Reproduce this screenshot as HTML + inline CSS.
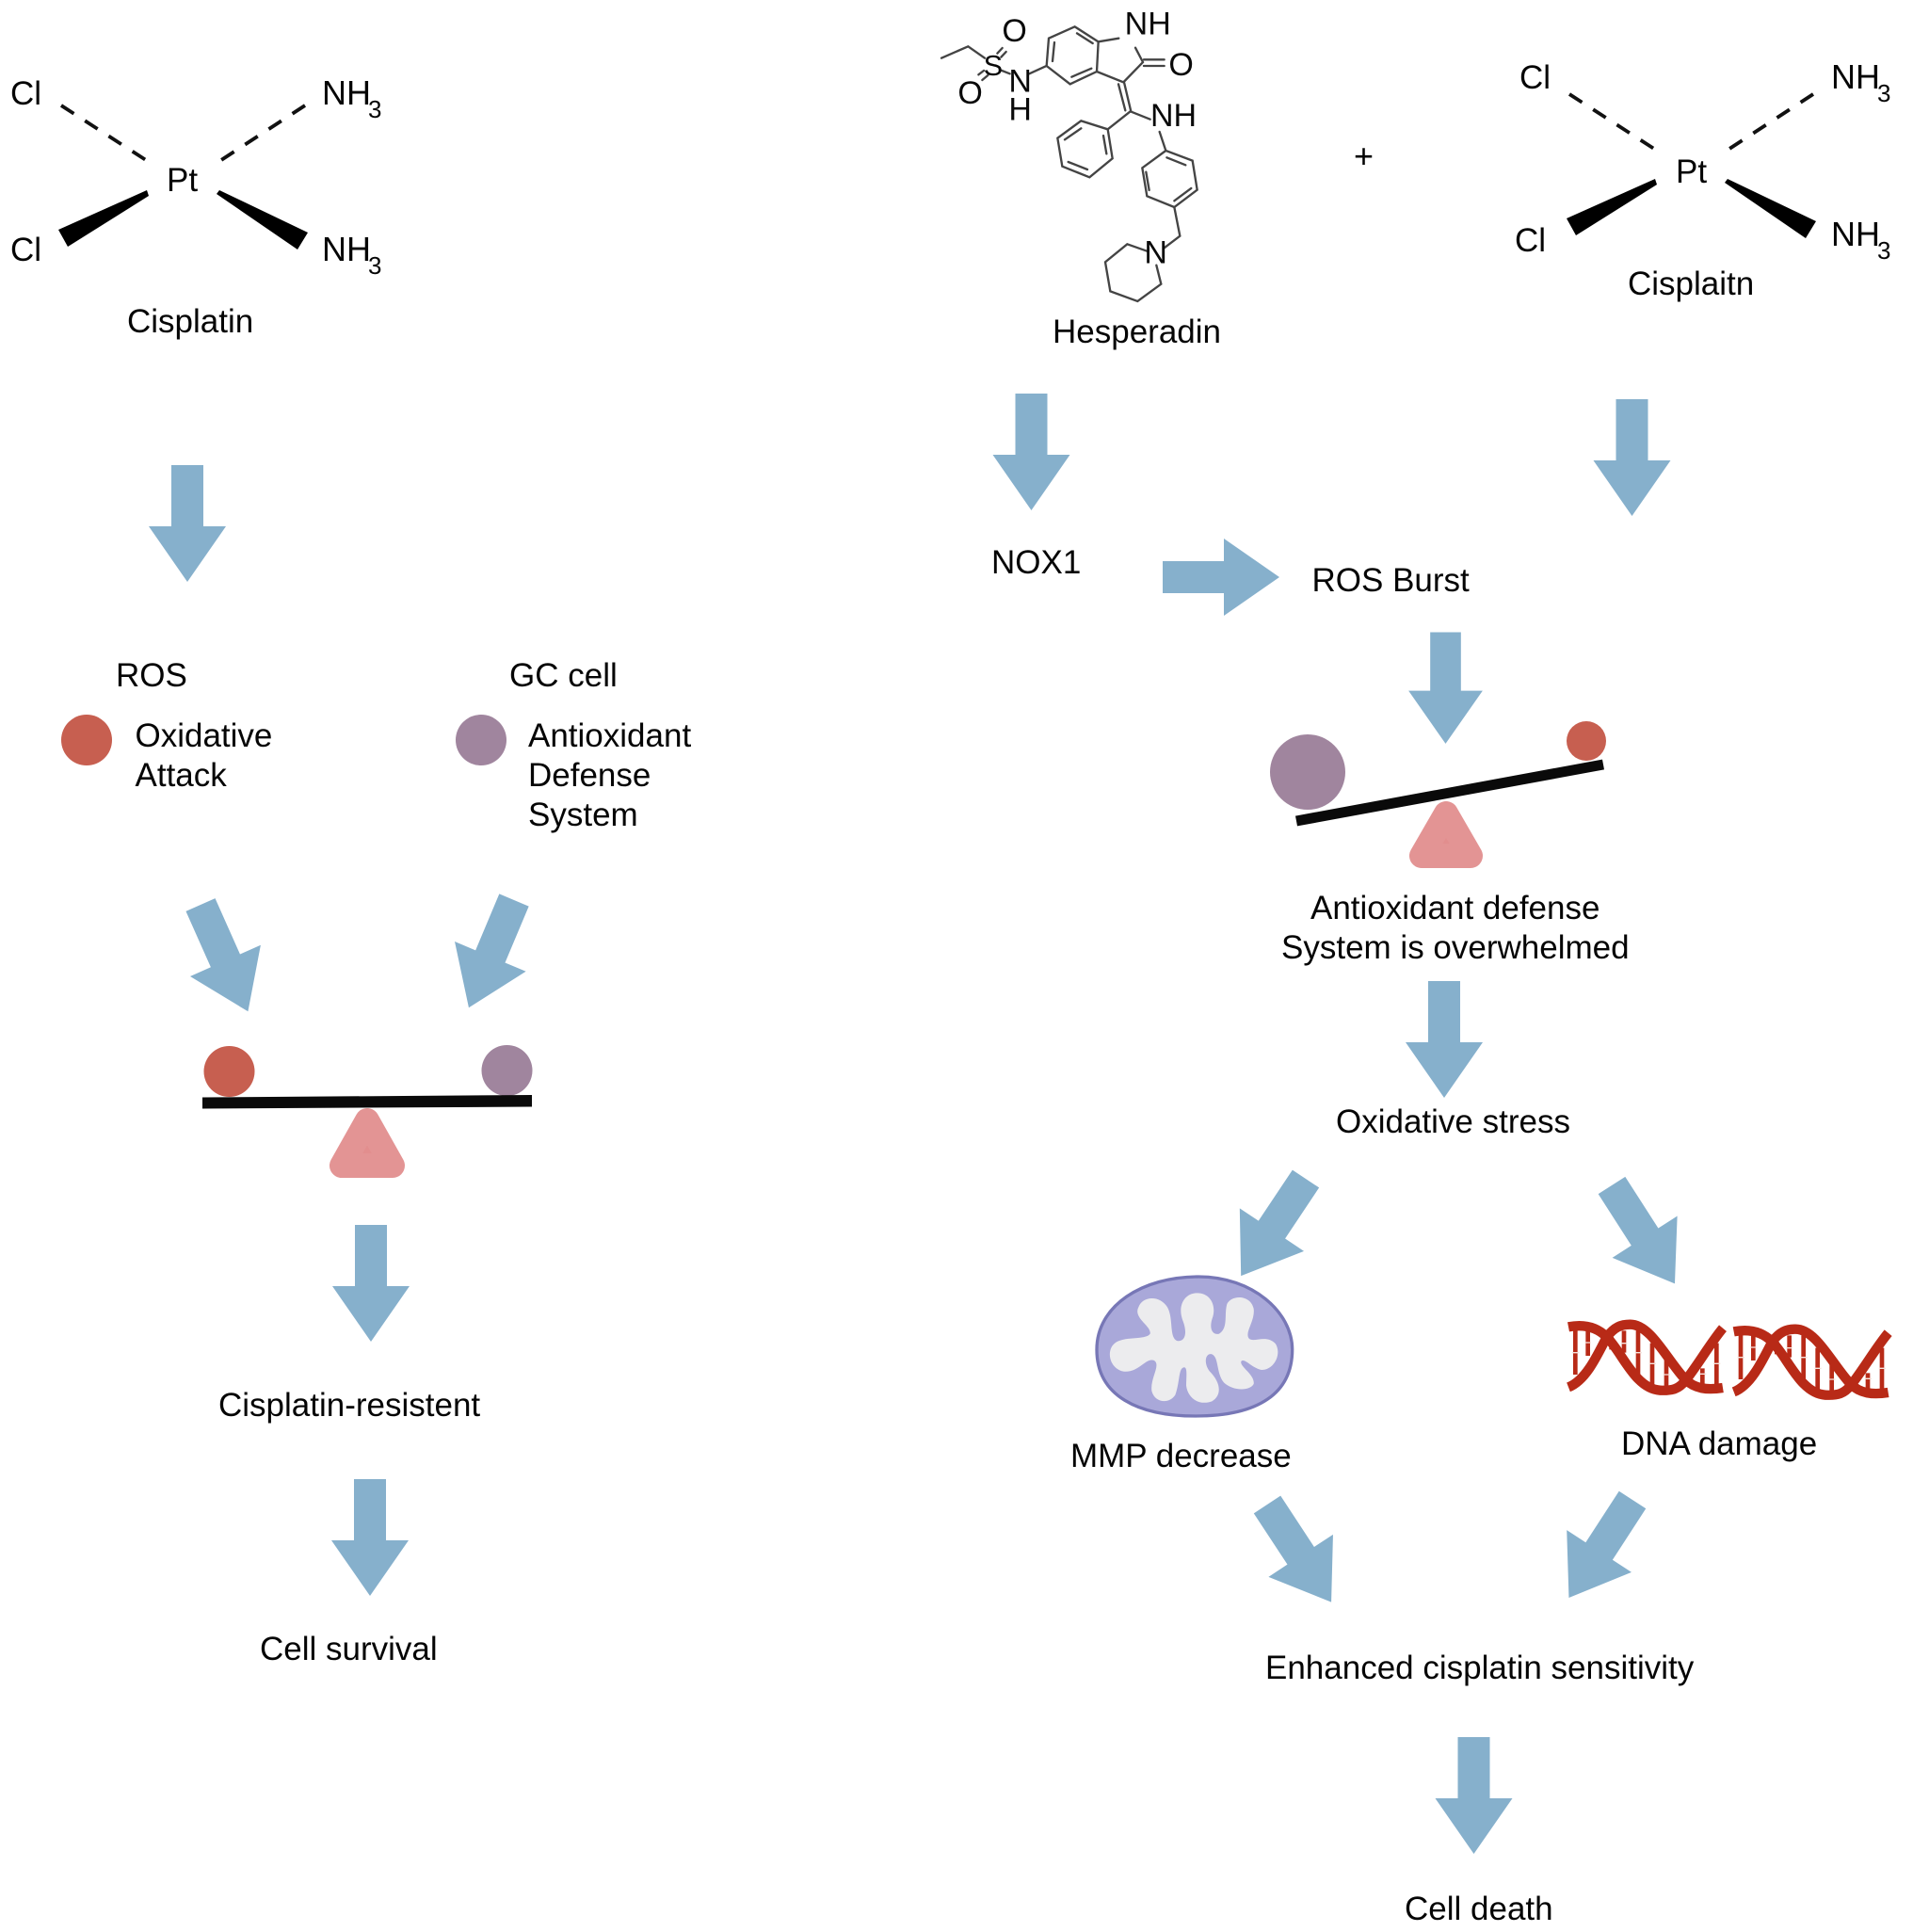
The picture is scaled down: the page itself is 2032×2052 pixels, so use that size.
<!DOCTYPE html>
<html><head><meta charset="utf-8"><style>
html,body{margin:0;padding:0;background:#fff}
svg{display:block}
text{font-family:"Liberation Sans",sans-serif;font-size:35px;fill:#050505}
.s{font-size:26px}
.m text{font-size:102px;fill:#0a0a0a}
</style></head><body>
<svg width="2032" height="2052" viewBox="0 0 2032 2052" xmlns="http://www.w3.org/2000/svg">
<defs>
<polygon id="a" points="-17,0 17,0 17,65 41,65 0,124 -41,65 -17,65" fill="#86b0cc"/>
<g id="pt">
<g stroke="#111" stroke-width="3.8" stroke-dasharray="16 14" fill="none">
<line x1="65" y1="112" x2="155" y2="170"/><line x1="324" y1="112" x2="235" y2="170"/>
</g>
<polygon points="156,202 158,208 72,262 62,244" fill="#000"/>
<polygon points="230,203 233,199 327,244 316,262" fill="#000" transform="translate(0,3)"/>
</g>
<g id="dna">
<g stroke="#b82a17" stroke-width="14" fill="none">
<path d="M100,120V270M140,110V210M215,150V190M255,130V200M300,130V290M345,170V310M390,220V310M505,250V310M550,170V310"/>
</g>
<g stroke="#f6e4de" stroke-width="4" fill="none">
<path d="M90,200H112M130,168H150M245,170H265M290,200H312M335,235H357M380,270H402M495,268H517M540,235H562"/>
</g>
<g stroke="#b82a17" stroke-width="31" fill="none">
<path d="M78,118C130,108 170,120 200,150C250,200 290,315 370,320C410,322 430,315 450,290C490,240 530,170 570,122"/>
<path d="M78,310C130,290 165,220 200,150C225,118 245,110 275,110C340,110 390,220 450,285C480,315 520,320 570,312"/>
</g>
</g>
</defs>

<!-- left molecule -->
<use href="#pt"/>
<text x="177" y="203">Pt</text>
<text x="11" y="111">Cl</text><text x="342" y="111" style="font-size:36px">NH</text><text class="s" x="391" y="125">3</text>
<text x="11" y="277">Cl</text><text x="342" y="277" style="font-size:36px">NH</text><text class="s" x="391" y="291">3</text>
<text x="135" y="353">Cisplatin</text>

<!-- left column -->
<use href="#a" transform="translate(199,494)"/>
<text x="123" y="729">ROS</text><text x="541" y="729">GC cell</text>
<circle cx="92" cy="786" r="27" fill="#c75f50"/>
<circle cx="511" cy="786" r="27" fill="#a0859e"/>
<text x="143.5" y="793">Oxidative</text><text x="143.5" y="835">Attack</text>
<text x="561" y="793">Antioxidant</text><text x="561" y="835">Defense</text><text x="561" y="877">System</text>
<use href="#a" transform="translate(213,961) rotate(-24)"/>
<use href="#a" transform="translate(546,956) rotate(22.8)"/>
<circle cx="243.5" cy="1138" r="27" fill="#c75f50"/>
<circle cx="538.5" cy="1137" r="27" fill="#a0859e"/>
<polygon points="215,1165.5 565,1163 565,1175.5 215,1177.5" fill="#0a0a0a"/>
<polygon points="390,1190 363,1238 417,1238" fill="#e28e8e" stroke="#e39494" stroke-width="26" stroke-linejoin="round"/>
<use href="#a" transform="translate(394,1301)"/>
<text x="232" y="1504">Cisplatin-resistent</text>
<use href="#a" transform="translate(393,1571)"/>
<text x="276" y="1763">Cell survival</text>

<!-- hesperadin -->
<g transform="translate(960,0) scale(.33333)" class="m">
<g stroke="#444" stroke-width="7" fill="none" stroke-linecap="round">
<path d="M120,185L205,148L258,185"/>
<path d="M298,170L314,153M310,182L326,165M255,225L238,238M268,240L250,255"/>
<path d="M305,222L338,235M400,235L455,210"/>
<path d="M455,210L462,122L545,85L620,133L615,228L530,268Z"/>
<path d="M474,195L480,135M552,106L602,138M535,245L598,218"/>
<path d="M620,133L685,122M738,152L762,198L700,262L615,228"/>
<path d="M765,190L830,190M765,210L830,210"/>
<path d="M702,262L724,355M684,268L706,352"/>
<path d="M722,355L650,412M722,355L785,380"/>
<path d="M650,412L665,505L592,565L505,530L490,440L565,385Z"/>
<path d="M636,432L646,490M585,540L524,516M513,445L565,409"/>
<path d="M815,420L835,480L920,512L935,605L862,660L775,625L760,535L835,480"/>
<path d="M838,502L898,526M916,600L862,640M782,606L772,548"/>
<path d="M862,660L880,752L830,790"/>
<path d="M775,800L712,778L642,835L658,928L745,960L820,905L805,845"/>
</g>
<text x="254" y="240" style="font-size:92px">S</text>
<text x="313" y="132">O</text>
<text x="172" y="330">O</text>
<text x="334" y="292">N</text>
<text x="334" y="382">H</text>
<text x="704" y="110">NH</text>
<text x="844" y="240">O</text>
<text x="786" y="402">NH</text>
<text x="766" y="838">N</text>
</g>
<text x="1118" y="364">Hesperadin</text>
<text x="1438" y="178" style="font-size:36px">+</text>

<!-- right molecule -->
<use href="#pt" transform="translate(1602,-12)"/>
<text x="1780" y="194">Pt</text>
<text x="1614" y="94">Cl</text><text x="1945" y="94" style="font-size:36px">NH</text><text class="s" x="1994" y="108">3</text>
<text x="1609" y="267">Cl</text><text x="1945" y="261" style="font-size:36px">NH</text><text class="s" x="1994" y="275">3</text>
<text x="1729" y="313">Cisplaitn</text>

<!-- right column -->
<use href="#a" transform="translate(1095.5,418)"/>
<use href="#a" transform="translate(1733.5,424)"/>
<text x="1053" y="609">NOX1</text>
<use href="#a" transform="translate(1235,613) rotate(-90)"/>
<text x="1393.5" y="628">ROS Burst</text>
<use href="#a" transform="translate(1535.5,671.5) scale(.96,.955)"/>
<circle cx="1389" cy="820" r="40" fill="#a0859e"/>
<circle cx="1685" cy="787" r="21" fill="#c75f50"/>
<line x1="1377" y1="872" x2="1703" y2="812" stroke="#0a0a0a" stroke-width="11"/>
<polygon points="1536,864 1510,909 1562,909" fill="#e28e8e" stroke="#e39494" stroke-width="26" stroke-linejoin="round"/>
<text x="1392" y="976">Antioxidant defense</text>
<text x="1361" y="1018">System is overwhelmed</text>
<use href="#a" transform="translate(1534,1042)"/>
<text x="1419" y="1203">Oxidative stress</text>
<use href="#a" transform="translate(1387,1252) rotate(33.7)"/>
<use href="#a" transform="translate(1712,1259) rotate(-32.7)"/>

<!-- mitochondrion -->
<g transform="translate(1130,1320) scale(.33333)">
<path d="M105,340C105,200 250,108 430,108C600,108 728,220 728,340C728,480 620,552 420,552C240,552 105,490 105,340Z" fill="#a9a8d9" stroke="#7777b6" stroke-width="10"/>
<path d="M238,205C250,170 305,165 330,205C350,240 335,300 360,312C385,318 395,290 380,250C360,200 385,160 425,160C468,160 485,200 475,235C460,275 475,295 495,290C525,270 510,230 520,195C535,165 595,165 605,210C610,250 575,285 590,305C605,320 645,290 675,322C695,355 670,405 630,405C600,400 575,365 565,378C560,395 610,420 605,450C590,475 535,470 510,445C485,415 495,365 472,355C450,350 445,385 465,410C500,445 505,485 472,505C430,520 395,495 390,455C390,425 395,395 382,397C365,400 370,445 355,485C335,515 290,510 280,472C275,430 310,390 288,375C260,365 240,415 190,410C145,400 135,345 160,322C190,295 260,312 275,290C280,265 220,240 238,205Z" fill="#ececee"/>
</g>
<text x="1137" y="1558">MMP decrease</text>

<!-- DNA -->
<g transform="translate(1640,1370) scale(.33333)">
<use href="#dna"/>
<use href="#dna" transform="translate(527,15)"/>
</g>
<text x="1722" y="1545">DNA damage</text>

<use href="#a" transform="translate(1346,1598) rotate(-33.3)"/>
<use href="#a" transform="translate(1734,1593) rotate(33)"/>
<text x="1344" y="1783">Enhanced cisplatin sensitivity</text>
<use href="#a" transform="translate(1565.5,1845)"/>
<text x="1492" y="2039">Cell death</text>
</svg>
</body></html>
